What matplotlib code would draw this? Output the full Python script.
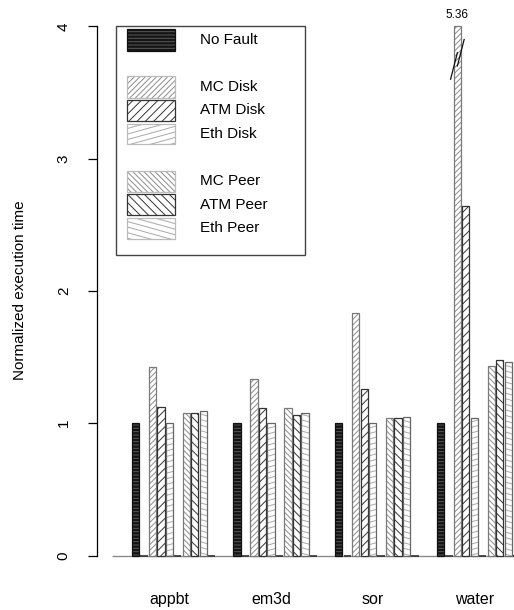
import numpy as np
import matplotlib
matplotlib.use("Agg")
import matplotlib.pyplot as plt
import matplotlib.hatch as mh
from matplotlib.path import Path
from matplotlib.patches import Rectangle

# ---------------- data ----------------
categories = ["appbt", "em3d", "sor", "water"]
no_fault = [1.00, 1.00, 1.00, 1.00]
mc_disk = [1.425, 1.335, 1.83, 5.36]
atm_disk = [1.12, 1.115, 1.255, 2.64]
eth_disk = [1.005, 1.00, 1.00, 1.04]
mc_peer = [1.08, 1.115, 1.036, 1.43]
atm_peer = [1.08, 1.062, 1.036, 1.48]
eth_peer = [1.09, 1.074, 1.047, 1.465]
spacer = [0, 0, 0, 0]
series_names = ["No Fault", "MC Disk", "ATM Disk", "Eth Disk",
                "MC Peer", "ATM Peer", "Eth Peer"]
y_ticks = [0, 1, 2, 3, 4]
y_cap = 4.0

# ---------------- custom shallow hatches ----------------
_orig_get_path = mh.get_path
mh._validate_hatch_pattern = lambda h: None


def _shallow(m, j, sign):
    s = j / m
    verts, codes = [], []
    for i in range(m):
        c = (i + 0.5) / m
        if sign > 0:
            y1 = c + s
            if y1 <= 1:
                verts += [(0, c), (1, y1)]
                codes += [Path.MOVETO, Path.LINETO]
            else:
                xs = (1 - c) / s
                verts += [(0, c), (xs, 1), (xs, 0), (1, y1 - 1)]
                codes += [Path.MOVETO, Path.LINETO, Path.MOVETO, Path.LINETO]
        else:
            y1 = c - s
            if y1 >= 0:
                verts += [(0, c), (1, y1)]
                codes += [Path.MOVETO, Path.LINETO]
            else:
                xs = c / s
                verts += [(0, c), (xs, 0), (xs, 1), (1, y1 + 1)]
                codes += [Path.MOVETO, Path.LINETO, Path.MOVETO, Path.LINETO]
    return Path(np.array(verts, float), codes)


def _get_path(hatchpattern, density=6):
    nu = hatchpattern.count("u")
    nd = hatchpattern.count("d")
    rest = hatchpattern.replace("u", "").replace("d", "")
    paths = []
    if rest:
        paths.append(_orig_get_path(rest, density))
    if nu:
        paths.append(_shallow(18, 5, +1))
    if nd:
        paths.append(_shallow(18, 5, -1))
    if not paths:
        return Path(np.empty((0, 2)))
    return Path.make_compound_path(*paths)


mh.get_path = _get_path

plt.rcParams["font.family"] = ["Liberation Sans", "DejaVu Sans"]
plt.rcParams["hatch.linewidth"] = 0.7

# styles: (fill, hatch, hatch colour, border colour)
styles = [
    ("#141414", "-----", "#5a5a5a", "#111111"),
    ("white", "//////", "#8c8c8c", "#7a7a7a"),
    ("white", "////", "#333333", "#333333"),
    ("white", "u", "#a8a8a8", "#666666"),
    ("white", "\\\\\\\\\\\\", "#8c8c8c", "#7a7a7a"),
    ("white", "\\\\\\\\", "#333333", "#333333"),
    ("white", "d", "#a8a8a8", "#666666"),
]

W, H = 514, 610
fig = plt.figure(figsize=(W / 100, H / 100), dpi=100)

# axes geometry in pixels
ax_left_px, ax_right_px = 96.5, 514.0
ax_top_px, ax_bot_px = 0.0, 580.0
y0_px, unit_px = 555.5, 132.3
slot_px, x0_px = 8.47, 135.5

ax = fig.add_axes([ax_left_px / W, 1 - ax_bot_px / H,
                   (ax_right_px - ax_left_px) / W, (ax_bot_px - ax_top_px) / H])
ax.set_ylim((y0_px - ax_bot_px) / unit_px, (y0_px - ax_top_px) / unit_px)
ax.set_xlim((ax_left_px - x0_px) / slot_px, (ax_right_px - x0_px) / slot_px)

group_stride = 12
bar_w = 0.86
g = np.arange(len(categories)) * group_stride

series = [no_fault, mc_disk, atm_disk, eth_disk, mc_peer, atm_peer, eth_peer]
slots = [0, 2, 3, 4, 6, 7, 8]

# baseline
ax.hlines(0, -2.8, ax.get_xlim()[1], color="#8a8a8a", lw=1.0, zorder=1)
# zero-height spacer bars
for sl in (1, 5, 9):
    ax.bar(g + sl, spacer, bar_w, bottom=0, color="none", edgecolor="#333333",
           lw=1.2, clip_on=False, zorder=2)

for vals, sl, (fc, hat, hc, ec) in zip(series, slots, styles):
    h = np.minimum(np.array(vals, float), y_cap)
    ax.bar(g + sl, h, bar_w, color=fc, edgecolor=hc, hatch=hat, lw=0, zorder=3)
    ax.bar(g + sl, h, bar_w, fill=False, edgecolor=ec, lw=0.9, zorder=4)

# clipped bar annotation + break marks
for gi, v in zip(g, mc_disk):
    if v > y_cap:
        xc = gi + 2
        ax.annotate(f"{v:.2f}", (xc, y_cap), xytext=(0, 4), textcoords="offset points",
                    ha="center", va="bottom", fontsize=8.5)
        ax.plot([xc - 0.8, xc + 0.0], [y_cap - 0.40, y_cap - 0.20], color="#111", lw=0.9, zorder=5)
        ax.plot([xc + 0.0, xc + 0.8], [y_cap - 0.30, y_cap - 0.10], color="#111", lw=0.9, zorder=5)

# axes styling
for sp in ("top", "right", "bottom"):
    ax.spines[sp].set_visible(False)
ax.spines["left"].set_bounds(y_ticks[0], y_ticks[-1])
ax.spines["left"].set_linewidth(0.9)
ax.set_yticks(y_ticks)
ax.set_yticklabels([str(t) for t in y_ticks], rotation=90, va="center", fontsize=11)
ax.tick_params(axis="y", length=6.5, width=0.9, pad=12)
ax.set_xticks(g + 4)
ax.set_xticklabels(categories, fontsize=11.5)
ax.tick_params(axis="x", length=0, pad=8.5)
ax.set_ylabel("Normalized execution time", fontsize=11)
ax.yaxis.set_label_coords(-0.166, 0.5)


# ---------------- manual legend ----------------
def fx(x):
    return x / W


def fy(y):
    return 1 - y / H


box_l, box_t, box_r, box_b = 116, 26, 305, 255
fig.add_artist(Rectangle((fx(box_l), fy(box_b)), fx(box_r) - fx(box_l), fy(box_t) - fy(box_b),
                         transform=fig.transFigure, fill=False, edgecolor="#444444", lw=1.0))
row0, row_h = 40.0, 23.5
rows = [0, 2, 3, 4, 6, 7, 8]
sw_l, sw_r, sw_h = 127, 175, 21
for name, r, (fc, hat, hc, ec) in zip(series_names, rows, styles):
    yc = row0 + r * row_h
    rect_args = ((fx(sw_l), fy(yc + sw_h / 2)), fx(sw_r) - fx(sw_l), fy(yc - sw_h / 2) - fy(yc + sw_h / 2))
    fig.add_artist(Rectangle(*rect_args, transform=fig.transFigure, facecolor=fc,
                             edgecolor=hc, hatch=hat, lw=0))
    fig.add_artist(Rectangle(*rect_args, transform=fig.transFigure, fill=False,
                             edgecolor="#bbbbbb" if fc == "white" and hc != "#333333" else ec, lw=0.9))
    fig.text(fx(200), fy(yc), name, ha="left", va="center", fontsize=11)

fig.savefig("out.png", dpi=100)
